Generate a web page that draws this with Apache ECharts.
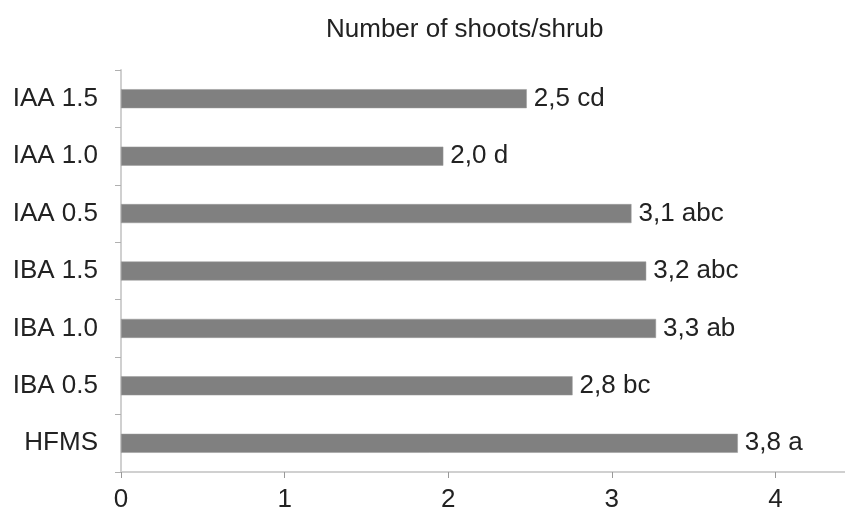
<!DOCTYPE html>
<html>
<head>
<meta charset="utf-8">
<script src="https://cdn.jsdelivr.net/npm/echarts@6/dist/echarts.min.js"></script>
<style>
html,body{margin:0;padding:0;background:#fff;}
#chart{width:845px;height:515px;}
</style>
</head>
<body>
<div id="chart"></div>
<script>
// Data (bottom to top)
const categories = ['HFMS', 'IBA 0.5', 'IBA 1.0', 'IBA 1.5', 'IAA 0.5', 'IAA 1.0', 'IAA 1.5'];
const values = [3.77, 2.76, 3.27, 3.21, 3.12, 1.97, 2.48];
const valueLabels = ['3,8 a', '2,8 bc', '3,3 ab', '3,2 abc', '3,1 abc', '2,0 d', '2,5 cd'];
const xTicks = [0, 1, 2, 3, 4];
const titleText = 'Number of shoots/shrub';

const chart = echarts.init(document.getElementById('chart'), null, {renderer: 'canvas'});
const font = 'Liberation Sans, Arial, sans-serif';
const option = {
  animation: false,
  backgroundColor: '#ffffff',
  title: {
    text: titleText,
    left: 321,
    top: 12,
    textStyle: {fontFamily: font, fontSize: 26, fontWeight: 'normal', color: '#222'}
  },
  grid: {left: 121, right: 0, top: 70, bottom: 43, containLabel: false},
  xAxis: {
    type: 'value',
    min: 0,
    max: 4.425,
    interval: 1,
    axisLine: {show: true, lineStyle: {color: '#d0d0d0', width: 2}},
    axisTick: {show: true, length: 6, lineStyle: {color: '#999', width: 1}},
    splitLine: {show: false},
    axisLabel: {
      margin: 15, fontFamily: font, fontSize: 26, color: '#222',
      showMaxLabel: false,
      formatter: function (v) { return xTicks.indexOf(v) >= 0 ? String(v) : ''; }
    }
  },
  yAxis: {
    type: 'category',
    data: categories,
    axisLine: {show: true, lineStyle: {color: '#d0d0d0', width: 2}},
    axisTick: {show: true, length: 6, lineStyle: {color: '#b0b0b0', width: 1}},
    axisLabel: {margin: 23, fontFamily: font, fontSize: 26, color: '#222'}
  },
  series: [{
    type: 'bar',
    data: values,
    barWidth: 19,
    itemStyle: {color: '#808080', borderColor: '#9a9a9a', borderWidth: 0.5},
    label: {
      show: true,
      position: 'right',
      distance: 7,
      fontFamily: font,
      fontSize: 26,
      color: '#222',
      formatter: function (p) { return valueLabels[p.dataIndex]; }
    }
  }]
};
chart.setOption(option);
</script>
</body>
</html>
